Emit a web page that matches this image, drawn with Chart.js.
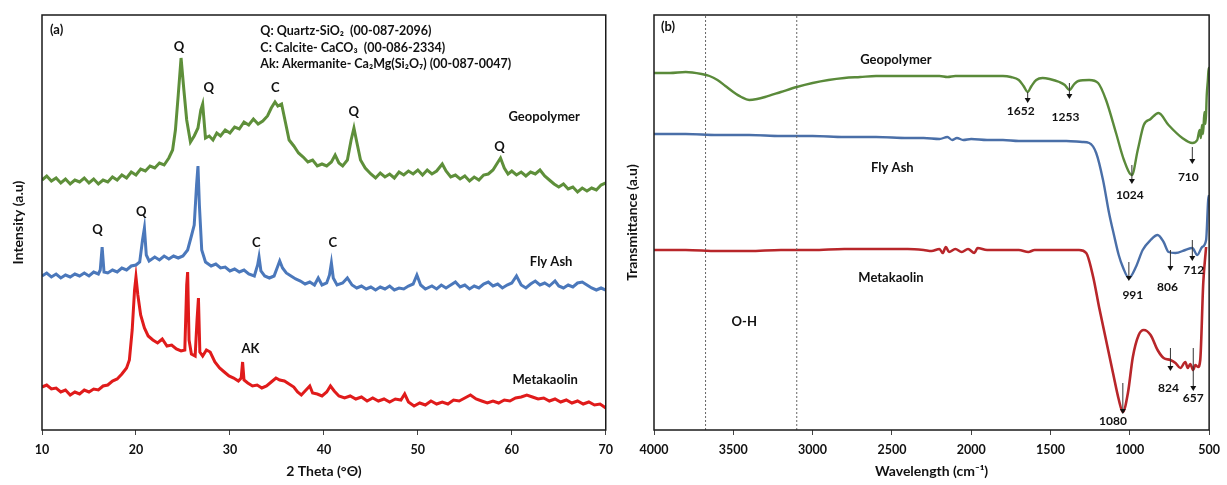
<!DOCTYPE html>
<html>
<head>
<meta charset="utf-8">
<script src="https://cdn.jsdelivr.net/npm/chart.js@4/dist/chart.umd.min.js"></script>
<style>
  html, body { margin: 0; padding: 0; background: #fff; }
  #wrap { position: relative; width: 1227px; height: 485px; }
  #c1 { position: absolute; left: 0; top: 0; }
  #c2 { position: absolute; left: 620px; top: 0; }
</style>
</head>
<body>
<div id="wrap">
  <canvas id="c1" width="620" height="485"></canvas>
  <canvas id="c2" width="607" height="485"></canvas>
</div>
<script>
// ---------------- Panel (a): XRD ----------------
const xrdTicks = [10, 20, 30, 40, 50, 60, 70];

const geoTheta = [10,10.5,11,11.5,12,12.5,13,13.5,14,14.5,15,15.5,16,16.5,17,17.5,18,18.5,19,19.5,20,20.5,21,21.5,22,22.5,23,23.5,23.9,24.2,24.5,24.8,25.1,25.4,25.8,26.2,26.6,26.9,27.1,27.4,27.8,28.2,28.6,29,29.5,30,30.5,31,31.5,32,32.5,33,33.5,34,34.4,34.8,35.1,35.5,35.9,36.3,36.8,37.3,37.8,38.3,38.8,39.3,39.8,40.3,40.8,41.2,41.6,42,42.5,42.9,43.2,43.5,43.9,44.4,45,45.5,46,46.5,47,47.5,48,48.5,49,49.5,50,50.5,51,51.5,52,52.6,53,53.5,54,54.5,55,55.5,56,56.5,57,57.5,58,58.4,58.8,59.2,59.6,60,60.5,61,61.5,62,62.5,63,63.5,64,64.5,65,65.5,66,66.5,67,67.5,68,68.5,69,69.5,70];
const geoInt   = [250,254,249,252,247,251,246,250,248,252,247,251,246,250,248,253,250,255,252,258,255,261,259,264,262,267,265,272,280,300,335,372,340,310,288,294,302,320,326,292,294,290,297,294,300,297,303,301,308,305,311,306,309,314,322,328,324,326,308,290,284,277,273,268,270,264,266,264,268,275,267,264,270,290,302,288,270,262,256,252,257,253,256,252,258,255,259,256,260,255,260,256,259,266,259,253,255,251,254,249,253,250,255,256,260,266,272,262,256,259,255,258,254,258,256,260,254,250,246,243,246,241,243,238,242,239,242,240,245,247];

const flyTheta = [10,10.5,11,11.5,12,12.5,13,13.5,14,14.5,15,15.5,16,16.2,16.4,16.6,17,17.5,18,18.5,19,19.5,20,20.4,20.7,20.9,21.1,21.4,22,22.5,23,23.5,24,24.5,25,25.5,25.9,26.2,26.45,26.6,26.75,27,27.4,28,28.5,29,29.5,30,30.5,31,31.5,32,32.6,32.95,33.1,33.3,33.7,34.2,34.7,35.1,35.3,35.6,36,36.5,37,37.5,38,38.5,39,39.4,39.8,40.3,40.6,40.8,41,41.4,42,42.5,43,43.5,44,44.5,45,45.5,46,46.5,47,47.5,48,48.5,49,49.5,49.9,50.3,50.8,51.5,52,52.5,53,53.5,54,54.5,55,55.5,56,56.5,57,57.5,58,58.5,59,59.5,60,60.5,61,61.5,62,62.5,63,63.5,64,64.6,65,65.5,66,66.5,67,67.5,68,68.5,69,69.5,70];
const flyInt   = [154,157,153,156,152,155,153,156,154,157,154,158,156,160,183,158,157,160,158,162,160,164,165,168,190,202,175,169,173,170,174,171,174,172,174,180,194,205,245,264,225,180,168,164,166,162,163,159,161,158,160,156,154,165,173,159,154,152,154,164,169,162,157,154,151,149,146,148,145,152,145,147,155,167,152,145,147,152,145,142,144,141,143,140,143,141,144,140,142,141,144,146,155,145,141,144,141,145,142,145,148,143,145,141,144,142,146,148,144,146,142,145,147,154,145,142,146,149,145,147,144,149,144,142,145,143,147,148,145,142,140,142,140];

const metaTheta = [10,10.5,11,11.5,12,12.5,13,13.5,14,14.5,15,15.5,16,16.5,17,17.5,18,18.5,19,19.3,19.6,19.85,20,20.2,20.5,20.9,21.3,21.8,22.3,22.8,23.3,23.8,24.3,24.8,25.2,25.4,25.5,25.65,25.9,26.3,26.5,26.65,26.8,27.1,27.5,27.9,28.4,28.9,29.4,29.9,30.4,30.9,31.2,31.35,31.5,31.9,32.4,32.9,33.4,33.9,34.4,34.9,35.3,35.8,36.3,36.8,37.2,37.6,38,38.5,38.8,39.3,39.8,40.3,40.7,41.1,41.6,42.2,42.8,43.4,44,44.6,45.2,45.8,46.4,47,47.6,48.2,48.6,49,49.6,50.2,50.8,51.4,52,52.6,53.2,53.8,54.4,55,55.6,56.2,56.8,57.4,58,58.6,59.2,59.8,60.4,61,61.6,62.2,62.8,63.4,64,64.6,65.2,65.8,66.4,67,67.6,68.2,68.8,69.4,70];
const metaInt   = [43,45,41,42,38,40,35,38,36,40,38,41,40,44,45,49,51,56,62,70,100,140,153,135,115,102,94,90,87,91,84,85,81,79,80,145,158,90,76,74,110,132,78,74,80,78,68,62,58,54,52,49,52,68,50,47,44,45,42,44,48,52,50,49,46,43,38,35,39,44,37,36,34,38,44,39,34,32,34,31,33,29,32,29,31,28,31,30,36,28,24,27,25,29,26,28,26,30,29,32,35,31,29,27,29,27,30,29,32,33,35,33,31,32,29,31,28,30,27,29,26,28,25,26,22];

const xrdPeakLabels = [
  { text: 'Q', theta: 24.58, level: 383 },
  { text: 'Q', theta: 27.75, level: 342 },
  { text: 'C', theta: 34.82, level: 342 },
  { text: 'Q', theta: 43.17, level: 318 },
  { text: 'Q', theta: 58.70, level: 283 },
  { text: 'Q', theta: 15.92, level: 200 },
  { text: 'Q', theta: 20.56, level: 218 },
  { text: 'C', theta: 32.82, level: 187 },
  { text: 'C', theta: 40.95, level: 187 },
  { text: 'AK', theta: 32.18, level: 81 }
];
const xrdSeriesNames = ['Geopolymer', 'Fly Ash', 'Metakaolin'];
const xrdLegendLines = [
  'Q: Quartz-SiO\u2082  (00-087-2096)',
  'C: Calcite- CaCO\u2083  (00-086-2334)',
  'Ak: Akermanite- Ca\u2082Mg(Si\u2082O\u2087) (00-087-0047)'
];

// ---------------- Panel (b): FTIR ----------------
const ftirTicks = [4000, 3500, 3000, 2500, 2000, 1500, 1000, 500];
const ohBandEdges = [3675, 3100];

const geoWn = [4000,3900,3800,3700,3650,3600,3550,3500,3450,3400,3350,3300,3200,3100,3000,2900,2800,2700,2600,2500,2400,2300,2200,2150,2100,2000,1900,1800,1750,1700,1670,1644,1620,1590,1550,1506,1444,1410,1381,1350,1325,1256,1200,1150,1087,1037,987,950,912,869,819,756,669,606,575,560,552,545,538,530,522,515,508,503,500];
const geoT  = [357,357,358,356,354,350,344,338,333,330,331,333,338,343,347,350,352,353,354,354,354,354,354,353,354,354,354,354,353,350,344,338,344,350,352,351,348,345,340,346,349,350,347,330,297,270,255,280,305,311,317,305,292,287,290,300,292,305,296,318,306,335,350,362,360];

const flyWn = [4000,3800,3600,3400,3200,3000,2800,2600,2400,2300,2200,2150,2120,2090,2050,2000,1900,1800,1700,1600,1500,1400,1300,1256,1212,1169,1131,1100,1070,1044,1006,962,919,869,825,787,756,712,650,606,575,544,519,506,500];
const flyT  = [296,296,295,295,294,294,293,293,292,292,291,293,290,292,290,291,290,290,289,289,289,289,288,287,277,250,217,195,175,163,152,163,180,190,195,188,178,177,180,182,175,183,190,230,235];

const metaWn = [4000,3800,3600,3400,3200,3000,2800,2600,2400,2300,2250,2200,2180,2160,2140,2100,2060,2020,1980,1960,1900,1800,1700,1640,1600,1500,1400,1320,1275,1231,1194,1150,1106,1069,1044,1012,981,944,912,869,825,787,744,712,681,650,635,619,600,587,570,556,537,519];
const metaT  = [180,180,179,179,180,180,181,181,181,180,179,181,177,183,178,181,178,181,177,182,180,180,180,178,180,180,180,180,177,153,123,90,57,30,18,37,73,95,100,95,80,72,70,67,62,68,62,66,60,65,63,70,147,183];

const ftirBandLabels = [
  { text: '1652', wn: 1688, level: 319, arrowWn: 1644, from: 338, to: 328 },
  { text: '1253', wn: 1406, level: 313, arrowWn: 1381, from: 347, to: 332 },
  { text: '1024', wn: 1000, level: 235, arrowWn: 987,  from: 265, to: 247 },
  { text: '710',  wn: 631,  level: 253, arrowWn: 606,  from: 283, to: 267 },
  { text: '991',  wn: 981,  level: 135, arrowWn: 1006, from: 168, to: 150 },
  { text: '806',  wn: 763,  level: 143, arrowWn: 744,  from: 180, to: 160 },
  { text: '712',  wn: 597,  level: 160, arrowWn: 606,  from: 190, to: 170 },
  { text: '824',  wn: 756,  level: 42,  arrowWn: 744,  from: 82,  to: 60 },
  { text: '657',  wn: 600,  level: 32,  arrowWn: 600,  from: 82,  to: 40 },
  { text: '1080', wn: 1106, level: 9,   arrowWn: 1044, from: 47,  to: 17 }
];

// ---------------- helpers ----------------
const pts = (xs, ys) => xs.map((v, i) => ({ x: v, y: ys[i] }));
const FONT = 'Lato, "Open Sans", "DejaVu Sans", sans-serif';

const panelDecor = {
  id: 'panelDecor',
  afterDatasetsDraw(chart, args, opts) {
    const { ctx, chartArea: a } = chart;
    const xs = chart.scales.x, ys = chart.scales.y;
    ctx.save();
    ctx.strokeStyle = '#1a1a1a';
    ctx.lineWidth = 1.5;
    ctx.strokeRect(a.left, a.top, a.right - a.left, a.bottom - a.top);
    (opts.arrows || []).forEach(ar => {
      const px = xs.getPixelForValue(ar.x);
      const y1 = ys.getPixelForValue(ar.from), y2 = ys.getPixelForValue(ar.to);
      ctx.strokeStyle = '#333';
      ctx.lineWidth = 1;
      ctx.beginPath(); ctx.moveTo(px, y1); ctx.lineTo(px, y2 - 3); ctx.stroke();
      ctx.fillStyle = '#111';
      ctx.beginPath(); ctx.moveTo(px - 3, y2 - 4); ctx.lineTo(px + 3, y2 - 4); ctx.lineTo(px, y2 + 1); ctx.closePath(); ctx.fill();
    });
    (opts.texts || []).forEach(t => {
      ctx.font = t.font || ('bold 13px ' + FONT);
      ctx.fillStyle = '#111';
      ctx.textAlign = t.align || 'center';
      ctx.textBaseline = 'middle';
      ctx.fillText(t.text, xs.getPixelForValue(t.x), ys.getPixelForValue(t.y));
    });
    ctx.restore();
  }
};

function baseOptions(cfg) {
  return {
    responsive: false,
    animation: false,
    devicePixelRatio: 1,
    layout: { padding: { top: 15, right: cfg.rightPad, left: 0, bottom: 0 } },
    plugins: { legend: { display: false }, tooltip: { enabled: false }, panelDecor: cfg.decor },
    elements: { point: { radius: 0 } },
    scales: {
      x: {
        type: 'linear', min: cfg.xmin, max: cfg.xmax, reverse: cfg.reverse,
        afterFit: s => { s.height = 55; },
        afterBuildTicks: s => { s.ticks = cfg.ticks.map(v => ({ value: v })); },
        ticks: { color: '#111', font: { family: FONT, size: 12.5, weight: 'bold' }, padding: 7, maxRotation: 0, autoSkip: false, callback: v => String(v) },
        grid: { display: true, drawOnChartArea: false, drawTicks: true, tickLength: 5, color: '#444', lineWidth: 1 },
        border: { display: false },
        title: { display: true, text: cfg.xTitle, color: '#111', font: { family: FONT, size: 14, weight: 'bold' }, padding: { top: 0, bottom: 5 } }
      },
      y: {
        min: 0, max: 415,
        afterFit: s => { s.width = cfg.yWidth; },
        ticks: { display: false },
        grid: { display: false },
        border: { display: false },
        title: { display: true, text: cfg.yTitle, color: '#111', font: { family: FONT, size: 14, weight: 'bold' }, padding: { top: cfg.yTitlePad, bottom: 0 } }
      }
    }
  };
}

// ---------------- Chart (a) ----------------
const xrdTexts = [
  { text: '(a)', x: 10.85, y: 400, align: 'left' },
  ...xrdLegendLines.map((s, i) => ({ text: s, x: 33.24, y: 399 - i * 16.5, align: 'left', font: 'bold 12.5px ' + FONT })),
  ...xrdPeakLabels.map(p => ({ text: p.text, x: p.theta, y: p.level })),
  { text: xrdSeriesNames[0], x: 63.45, y: 313 },
  { text: xrdSeriesNames[1], x: 64.19, y: 168 },
  { text: xrdSeriesNames[2], x: 63.55, y: 50 }
];

new Chart(document.getElementById('c1'), {
  type: 'line',
  data: {
    datasets: [
      { label: 'Geopolymer', data: pts(geoTheta, geoInt), borderColor: '#5e8f3a', borderWidth: 3, tension: 0 },
      { label: 'Fly Ash', data: pts(flyTheta, flyInt), borderColor: '#4b78bb', borderWidth: 3, tension: 0 },
      { label: 'Metakaolin', data: pts(metaTheta, metaInt), borderColor: '#e01b1b', borderWidth: 3, tension: 0 }
    ]
  },
  options: baseOptions({
    rightPad: 10, xmin: 10, xmax: 70, reverse: false, ticks: xrdTicks,
    xTitle: '2 Theta (\u00B0\u0398)', yTitle: 'Intensity (a.u)', yWidth: 42, yTitlePad: 10,
    decor: { texts: xrdTexts }
  }),
  plugins: [panelDecor]
});

// ---------------- Chart (b) ----------------
const ftirTexts = [
  { text: '(b)', x: 3956, y: 403, align: 'left' },
  { text: xrdSeriesNames[0], x: 2475, y: 370 },
  { text: xrdSeriesNames[1], x: 2497, y: 262 },
  { text: xrdSeriesNames[2], x: 2506, y: 152 },
  { text: 'O-H', x: 3431, y: 108 },
  ...ftirBandLabels.map(b => ({ text: b.text, x: b.wn, y: b.level, font: 'bold 12px ' + FONT }))
];
const ftirArrows = ftirBandLabels.map(b => ({ x: b.arrowWn, from: b.from, to: b.to }));

new Chart(document.getElementById('c2'), {
  type: 'line',
  data: {
    datasets: [
      ...ohBandEdges.map(w => ({ label: 'edge', data: [{ x: w, y: 0 }, { x: w, y: 415 }], borderColor: '#666', borderWidth: 1, borderDash: [2, 2] })),
      { label: 'Geopolymer', data: pts(geoWn, geoT), borderColor: '#5a8a3a', borderWidth: 2.4, cubicInterpolationMode: 'monotone' },
      { label: 'Fly Ash', data: pts(flyWn, flyT), borderColor: '#4a6fa8', borderWidth: 2.4, cubicInterpolationMode: 'monotone' },
      { label: 'Metakaolin', data: pts(metaWn, metaT), borderColor: '#b8262a', borderWidth: 2.6, cubicInterpolationMode: 'monotone' }
    ]
  },
  options: baseOptions({
    rightPad: 13, xmin: 500, xmax: 4000, reverse: true, ticks: ftirTicks,
    xTitle: 'Wavelength (cm\u207B\u00B9)', yTitle: 'Transmittance (a.u)', yWidth: 34, yTitlePad: 4,
    decor: { texts: ftirTexts, arrows: ftirArrows }
  }),
  plugins: [panelDecor]
});
</script>
</body>
</html>
